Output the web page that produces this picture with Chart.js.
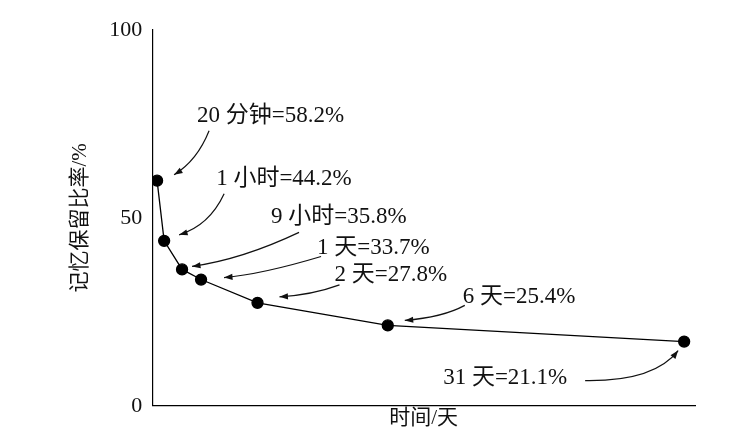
<!DOCTYPE html>
<html><head><meta charset="utf-8">
<script src="https://cdn.jsdelivr.net/npm/chart.js@4"></script>
<style>html,body{margin:0;background:#fff}#wrap{width:740px;height:443px}</style>
</head><body><div id="wrap"><canvas id="c"></canvas></div>
<script>
const timeX = [0.9, 2.2, 5.5, 9.0, 19.4, 43.4, 98.0];
const retention = [59.9, 43.9, 36.3, 33.6, 27.4, 21.4, 17.1];
const labels = ['20 分钟=58.2%', '1 小时=44.2%', '9 小时=35.8%', '1 天=33.7%', '2 天=27.8%', '6 天=25.4%', '31 天=21.1%'];
const yTicks = [0, 50, 100];
// label text position and arrow path, as offsets from each point (px)
const notes = [
  {tx: 40, ty: -65, a: [52, -50, 40, -20, 17, -6]},
  {tx: 52, ty: -62, a: [60, -47, 45, -15, 15, -6]},
  {tx: 89, ty: -52, a: [117, -37, 60, -10, 10, -3]},
  {tx: 116, ty: -32, a: [120, -23, 60, -5, 23, -2]},
  {tx: 77, ty: -28, a: [82, -18, 55, -8, 22, -6]},
  {tx: 75, ty: -28, a: [77, -20, 55, -8, 17, -5]},
  {tx: -241, ty: 36, a: [-99, 39, -30, 40, -6, 9]}
];
const FONT = '"Liberation Serif", "Noto Sans CJK SC", serif';

const notePlugin = {
  id: 'notes',
  afterDatasetsDraw(chart) {
    const ctx = chart.ctx, xs = chart.scales.x, ys = chart.scales.y;
    ctx.save();
    ctx.font = '23px ' + FONT;
    ctx.fillStyle = '#111'; ctx.strokeStyle = '#111'; ctx.lineWidth = 1.2;
    timeX.forEach((v, i) => {
      const px = xs.getPixelForValue(v), py = ys.getPixelForValue(retention[i]);
      const n = notes[i];
      ctx.textBaseline = 'middle';
      ctx.fillText(labels[i], px + n.tx, py + n.ty);
      const [sx, sy, cx, cy, ex, ey] = n.a;
      ctx.beginPath();
      ctx.moveTo(px + sx, py + sy);
      ctx.quadraticCurveTo(px + cx, py + cy, px + ex, py + ey);
      ctx.stroke();
      const ang = Math.atan2(ey - cy, ex - cx);
      ctx.beginPath();
      ctx.moveTo(px + ex, py + ey);
      ctx.lineTo(px + ex - 9 * Math.cos(ang - 0.35), py + ey - 9 * Math.sin(ang - 0.35));
      ctx.lineTo(px + ex - 9 * Math.cos(ang + 0.35), py + ey - 9 * Math.sin(ang + 0.35));
      ctx.closePath(); ctx.fill();
    });
    ctx.restore();
  }
};

new Chart(document.getElementById('c'), {
  type: 'scatter',
  data: {
    datasets: [{
      data: timeX.map((x, i) => ({x, y: retention[i]})),
      showLine: true, borderColor: '#000', borderWidth: 1.3,
      pointRadius: 5.5, pointBackgroundColor: '#000', pointBorderColor: '#000'
    }]
  },
  options: {
    responsive: true, maintainAspectRatio: false, animation: false,
    layout: {padding: {left: 64, right: 45, top: 30, bottom: 8}},
    plugins: {legend: {display: false}, tooltip: {enabled: false}},
    scales: {
      x: {type: 'linear', min: 0, max: 100,
        grid: {display: false, drawTicks: false}, border: {color: '#000', width: 1.2},
        ticks: {display: false},
        title: {display: true, text: '时间/天', color: '#111', font: {family: FONT, size: 21}, padding: {top: 0}}},
      y: {min: 0, max: 100,
        afterBuildTicks: s => { s.ticks = yTicks.map(v => ({value: v})); },
        grid: {display: false, drawTicks: false}, border: {color: '#000', width: 1.2},
        ticks: {color: '#111', font: {family: FONT, size: 22}, padding: 10},
        title: {display: true, text: '记忆保留比率/%', color: '#111', font: {family: FONT, size: 21}, padding: {bottom: 6}}}
    }
  },
  plugins: [notePlugin]
});
</script></body></html>
